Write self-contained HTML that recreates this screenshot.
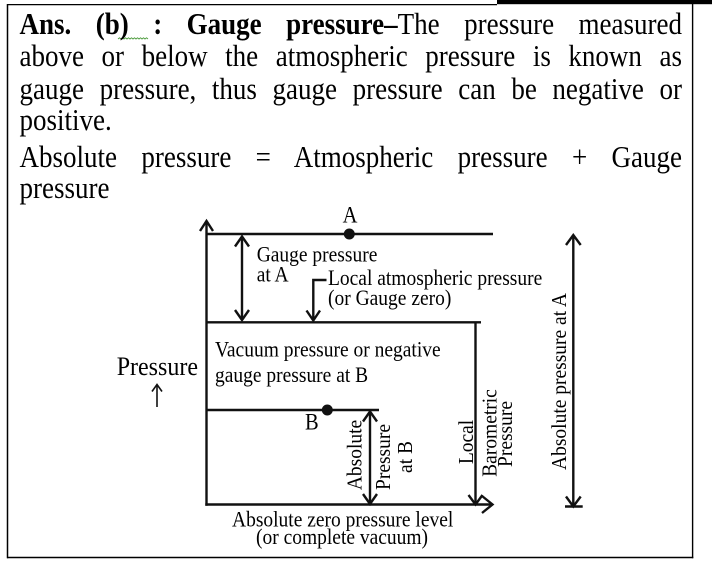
<!DOCTYPE html>
<html>
<head>
<meta charset="utf-8">
<style>
  html, body { margin:0; padding:0; }
  body { width:712px; height:562px; position:relative; overflow:hidden; background:#fff; }
  .ln {
    position:absolute; left:19.5px; width:662.5px; height:27px;
    font-family:"Liberation Serif", "Times New Roman", serif;
    font-size:27px; line-height:27px; color:#000;
    text-align:justify; text-align-last:justify;
    transform:scaleY(1.12); transform-origin:0 22.6px;
  }
  .left { text-align:left; text-align-last:left; }
  b { font-weight:bold; }
  svg text { font-family:"Liberation Serif", "Times New Roman", serif; fill:#000; }
</style>
</head>
<body>
<svg width="712" height="562" style="position:absolute;left:0;top:0">
  <!-- frame -->
  <rect x="497" y="0" width="215" height="4.2" fill="#000"/>
  <line x1="7" y1="4.6" x2="497" y2="4.6" stroke="#000" stroke-width="1.3"/>
  <line x1="7.5" y1="4" x2="7.5" y2="558.2" stroke="#000" stroke-width="1.5"/>
  <line x1="7" y1="557.5" x2="693.3" y2="557.5" stroke="#000" stroke-width="1.5"/>
  <line x1="692.6" y1="4" x2="692.6" y2="558.2" stroke="#000" stroke-width="1.4"/>
  <!-- spellcheck squiggle -->
  <path d="M118,39 l1.5,-1.2 l1.5,1.2 l1.5,-1.2 l1.5,1.2 l1.5,-1.2 l1.5,1.2 l1.5,-1.2 l1.5,1.2 l1.5,-1.2 l1.5,1.2 l1.5,-1.2 l1.5,1.2 l1.5,-1.2 l1.5,1.2 l1.5,-1.2 l1.5,1.2 l1.5,-1.2 l1.5,1.2 l1.5,-1.2 l1.5,1.2" fill="none" stroke="#4a9a3a" stroke-width="0.9"/>

  <g stroke="#111" stroke-width="2.4" fill="none">
    <line x1="206.5" y1="221" x2="206.5" y2="505.7"/>
    <polyline points="200,231 206.5,221 213,231"/>
    <line x1="205.3" y1="504.5" x2="492" y2="504.5"/>
    <polyline points="482,496 492.5,504.5 482,513"/>
    <line x1="206.5" y1="234" x2="493" y2="234"/>
    <line x1="206.5" y1="322.3" x2="481" y2="322.3"/>
    <line x1="475.5" y1="322.3" x2="475.5" y2="504"/>
    <polyline points="468.5,495 475.5,504.5 482.5,495"/>
    <line x1="206.5" y1="410" x2="379" y2="410"/>
    <line x1="242" y1="236.5" x2="242" y2="319.5"/>
    <polyline points="235,246.5 242,236.5 249,246.5"/>
    <polyline points="235,310 242,320 249,310"/>
    <polyline points="326.5,280 313.3,280 313.3,320"/>
    <polyline points="306.5,310.5 313.3,320.5 320,310.5"/>
    <line x1="370" y1="412" x2="370" y2="503.5"/>
    <polyline points="363,421.5 370,411.5 377,421.5"/>
    <polyline points="363,494 370,504 377,494"/>
    <line x1="573.3" y1="235.5" x2="573.3" y2="506.5"/>
    <polyline points="566,245 573.3,235 580.7,245"/>
    <polyline points="566,496.5 573.3,506.5 580.7,496.5"/>
    <line x1="565" y1="506.5" x2="582.7" y2="506.5"/>
    <line x1="157" y1="384.5" x2="157" y2="407" stroke-width="1.6"/>
    <polyline points="152,391.5 157,384.5 162,391.5" stroke-width="1.6"/>
  </g>
  <circle cx="349.3" cy="234" r="5.5" fill="#111"/>
  <circle cx="327.3" cy="410" r="5.5" fill="#111"/>

  <g font-size="19.5">
    <text transform="translate(350,222.7) scale(1,1.12)" text-anchor="middle" font-size="20.5">A</text>
    <text transform="translate(256.7,261.7) scale(1,1.12)">Gauge pressure</text>
    <text transform="translate(256.7,281.7) scale(1,1.12)">at A</text>
    <text transform="translate(328,285) scale(1,1.12)">Local atmospheric pressure</text>
    <text transform="translate(328,305) scale(1,1.12)">(or Gauge zero)</text>
    <text transform="translate(215,356.7) scale(1,1.12)">Vacuum pressure or negative</text>
    <text transform="translate(215,382) scale(1,1.12)">gauge pressure at B</text>
    <text transform="translate(116.7,375) scale(1,1.12)" font-size="24">Pressure</text>
    <text transform="translate(305,429.3) scale(1,1.12)" font-size="20.5">B</text>
    <text transform="translate(232,526.5) scale(1,1.12)">Absolute zero pressure level</text>
    <text transform="translate(256,544) scale(1,1.12)">(or complete vacuum)</text>

    <text transform="translate(361.5,455) rotate(-90) scale(1,1.08)" text-anchor="middle">Absolute</text>
    <text transform="translate(390,457) rotate(-90) scale(1,1.08)" text-anchor="middle">Pressure</text>
    <text transform="translate(412,457) rotate(-90) scale(1,1.08)" text-anchor="middle">at B</text>
    <text transform="translate(473,442) rotate(-90) scale(1,1.08)" text-anchor="middle">Local</text>
    <text transform="translate(496.5,433) rotate(-90) scale(1,1.08)" text-anchor="middle">Barometric</text>
    <text transform="translate(512,434) rotate(-90) scale(1,1.08)" text-anchor="middle">Pressure</text>
    <text transform="translate(566,381.5) rotate(-90) scale(1,1.08)" text-anchor="middle">Absolute pressure at A</text>
  </g>
</svg>

<div class="ln" style="top:12.4px"><b>Ans. (b) : Gauge pressure–</b>The pressure measured</div>
<div class="ln" style="top:44.4px">above or below the atmospheric pressure is known as</div>
<div class="ln" style="top:76.9px">gauge pressure, thus gauge pressure can be negative or</div>
<div class="ln left" style="top:108.4px">positive.</div>
<div class="ln" style="top:145.4px">Absolute pressure = Atmospheric pressure + Gauge</div>
<div class="ln left" style="top:176.4px">pressure</div>
</body>
</html>
